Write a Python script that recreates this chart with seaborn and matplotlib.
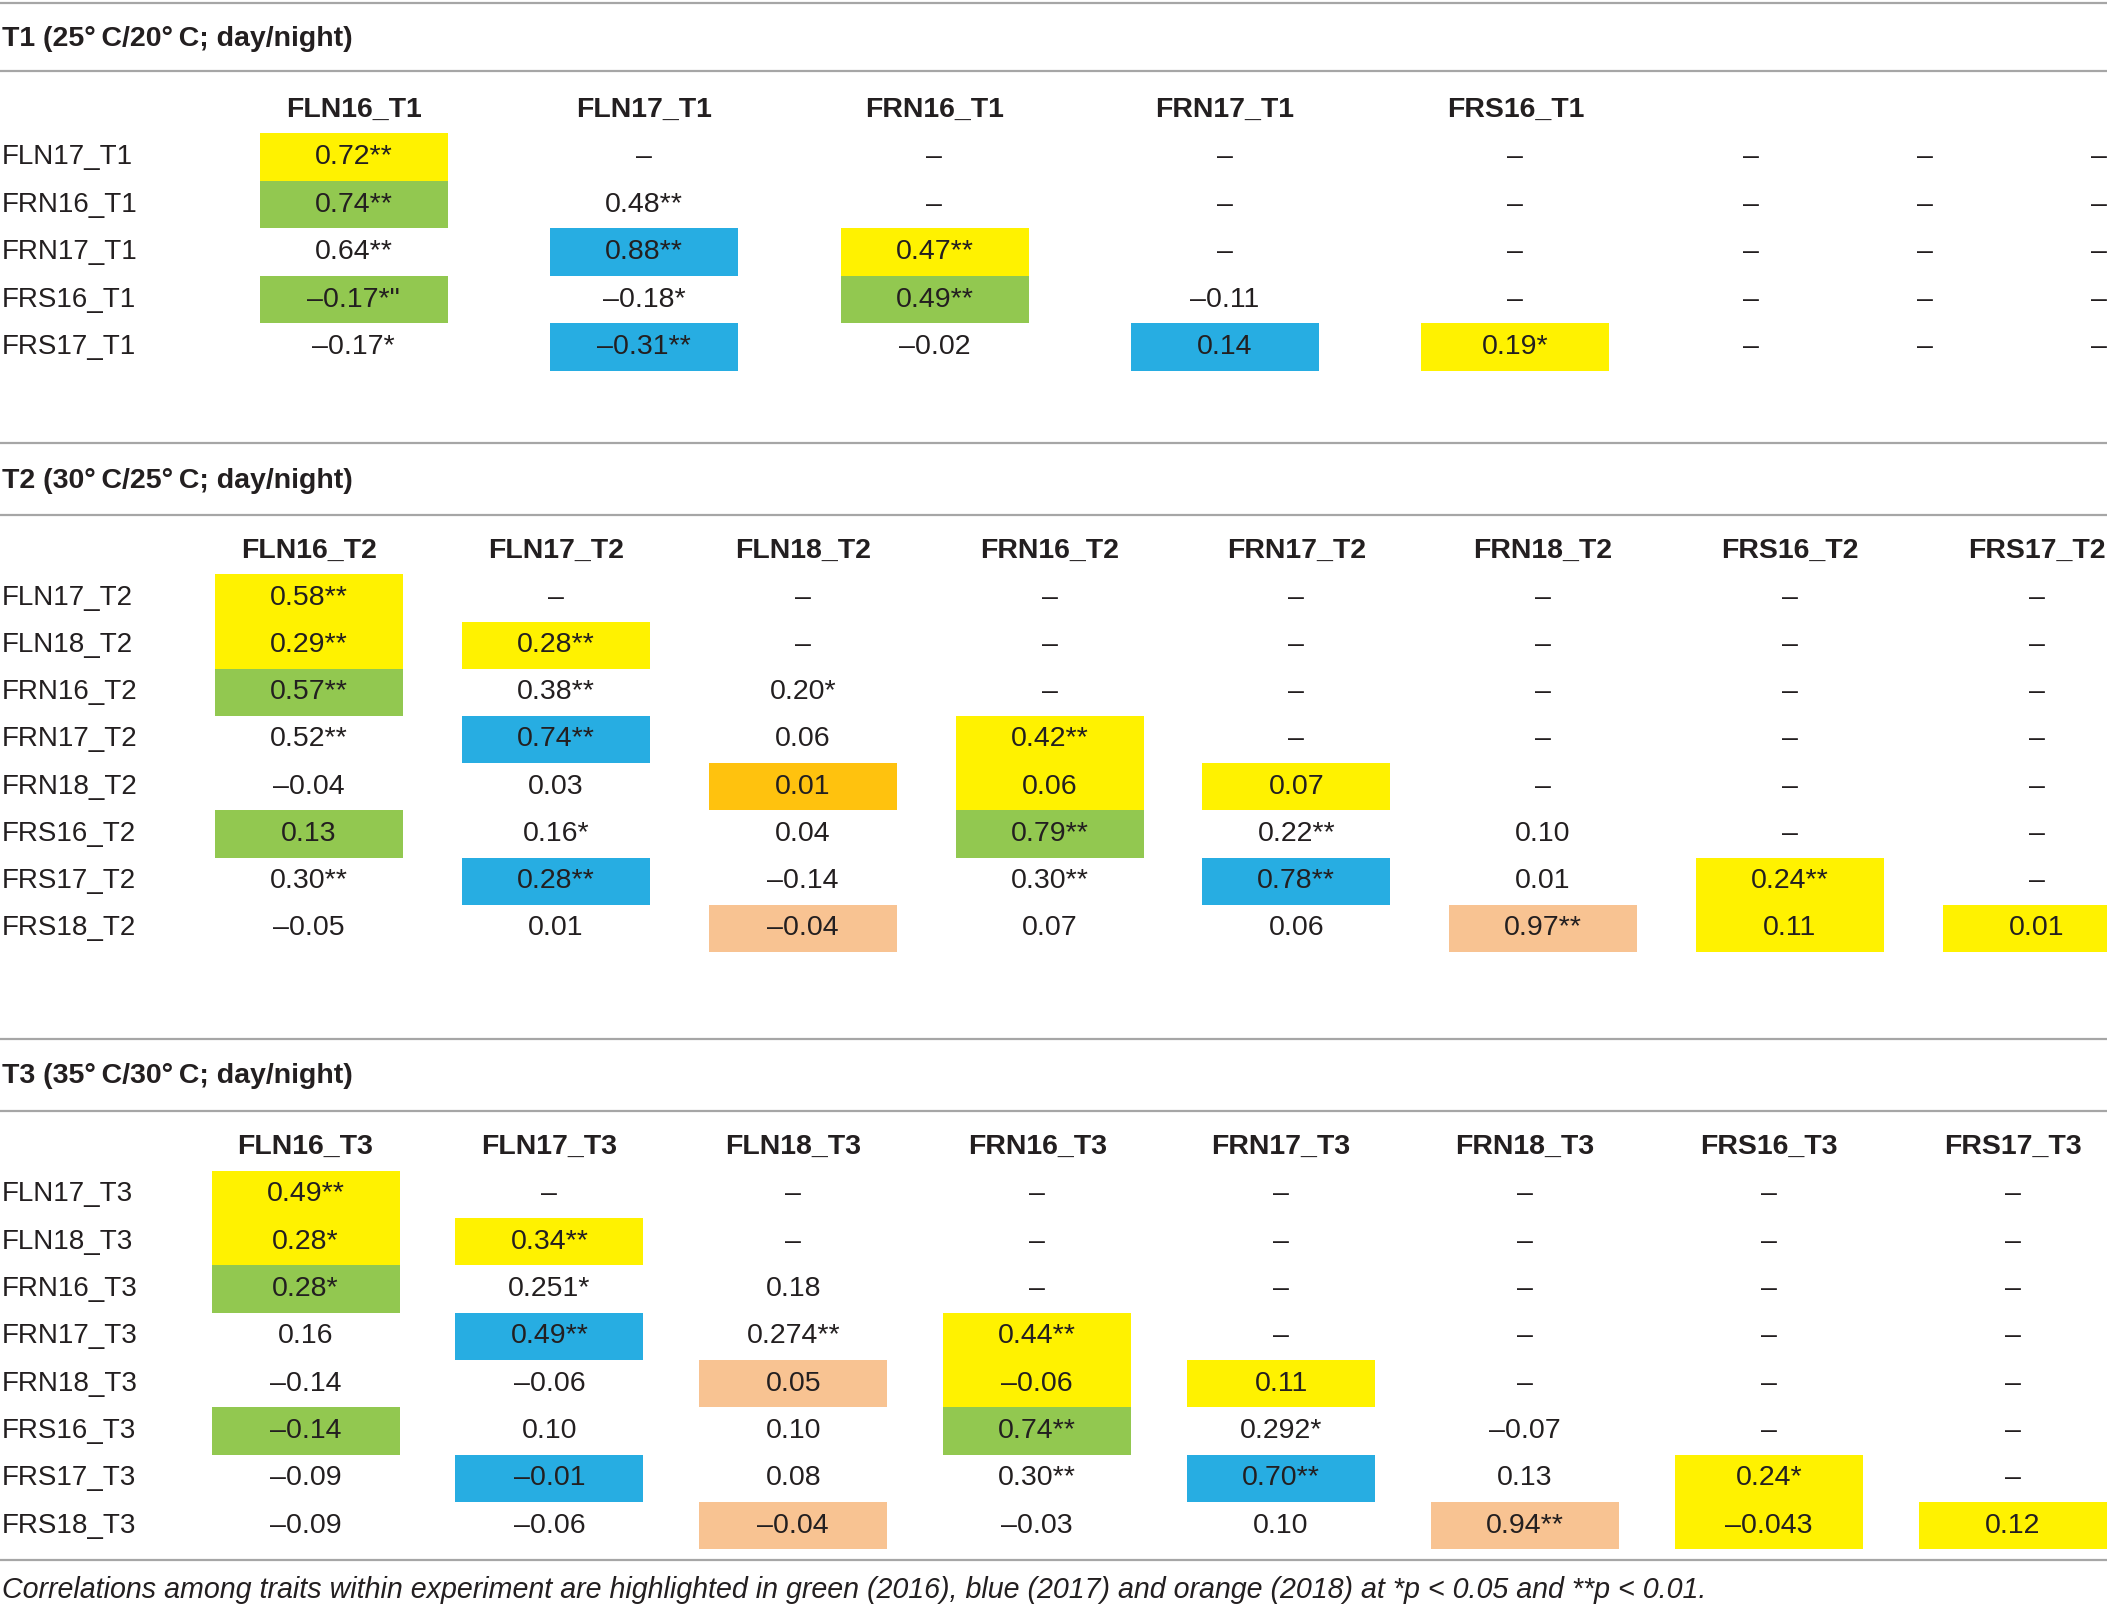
import matplotlib.pyplot as plt
import seaborn as sns

W, H, DPI = 2107, 1604, 100

# ---- data -----------------------------------------------------------------
t1_rows = ["FLN17_T1", "FRN16_T1", "FRN17_T1", "FRS16_T1", "FRS17_T1"]
t1_cols = ["FLN16_T1", "FLN17_T1", "FRN16_T1", "FRN17_T1", "FRS16_T1", "", "", ""]
t1_values = [
    ["0.72**", "–", "–", "–", "–", "–", "–", "–"],
    ["0.74**", "0.48**", "–", "–", "–", "–", "–", "–"],
    ["0.64**", "0.88**", "0.47**", "–", "–", "–", "–", "–"],
    ["–0.17*\"", "–0.18*", "0.49**", "–0.11", "–", "–", "–", "–"],
    ["–0.17*", "–0.31**", "–0.02", "0.14", "0.19*", "–", "–", "–"],
]
# highlight codes: G green (2016), B blue (2017), O/P orange (2018), Y yellow
t1_marks = ["Y.......",
            "G.......",
            ".BY.....",
            "G.G.....",
            ".B.BY..."]

t2_rows = ["FLN17_T2", "FLN18_T2", "FRN16_T2", "FRN17_T2",
           "FRN18_T2", "FRS16_T2", "FRS17_T2", "FRS18_T2"]
t2_cols = ["FLN16_T2", "FLN17_T2", "FLN18_T2", "FRN16_T2",
           "FRN17_T2", "FRN18_T2", "FRS16_T2", "FRS17_T2"]
t2_values = [
    ["0.58**", "–", "–", "–", "–", "–", "–", "–"],
    ["0.29**", "0.28**", "–", "–", "–", "–", "–", "–"],
    ["0.57**", "0.38**", "0.20*", "–", "–", "–", "–", "–"],
    ["0.52**", "0.74**", "0.06", "0.42**", "–", "–", "–", "–"],
    ["–0.04", "0.03", "0.01", "0.06", "0.07", "–", "–", "–"],
    ["0.13", "0.16*", "0.04", "0.79**", "0.22**", "0.10", "–", "–"],
    ["0.30**", "0.28**", "–0.14", "0.30**", "0.78**", "0.01", "0.24**", "–"],
    ["–0.05", "0.01", "–0.04", "0.07", "0.06", "0.97**", "0.11", "0.01"],
]
t2_marks = ["Y.......",
            "YY......",
            "G.......",
            ".B.Y....",
            "..OYY...",
            "G..G....",
            ".B..B.Y.",
            "..P..PYY"]

t3_rows = ["FLN17_T3", "FLN18_T3", "FRN16_T3", "FRN17_T3",
           "FRN18_T3", "FRS16_T3", "FRS17_T3", "FRS18_T3"]
t3_cols = ["FLN16_T3", "FLN17_T3", "FLN18_T3", "FRN16_T3",
           "FRN17_T3", "FRN18_T3", "FRS16_T3", "FRS17_T3"]
t3_values = [
    ["0.49**", "–", "–", "–", "–", "–", "–", "–"],
    ["0.28*", "0.34**", "–", "–", "–", "–", "–", "–"],
    ["0.28*", "0.251*", "0.18", "–", "–", "–", "–", "–"],
    ["0.16", "0.49**", "0.274**", "0.44**", "–", "–", "–", "–"],
    ["–0.14", "–0.06", "0.05", "–0.06", "0.11", "–", "–", "–"],
    ["–0.14", "0.10", "0.10", "0.74**", "0.292*", "–0.07", "–", "–"],
    ["–0.09", "–0.01", "0.08", "0.30**", "0.70**", "0.13", "0.24*", "–"],
    ["–0.09", "–0.06", "–0.04", "–0.03", "0.10", "0.94**", "–0.043", "0.12"],
]
t3_marks = ["Y.......",
            "YY......",
            "G.......",
            ".B.Y....",
            "..PYY...",
            "G..G....",
            ".B..B.Y.",
            "..P..PYY"]

titles = ["T1 (25°\u2009C/20°\u2009C; day/night)",
          "T2 (30°\u2009C/25°\u2009C; day/night)",
          "T3 (35°\u2009C/30°\u2009C; day/night)"]
footnote = ("Correlations among traits within experiment are highlighted in green (2016), "
            "blue (2017) and orange (2018) at *p < 0.05 and **p < 0.01.")

# ---- style ------------------------------------------------------------------
sns.set_theme(style="white")
plt.rcParams['font.family'] = ['Liberation Sans', 'DejaVu Sans']

INK = "#231f20"
RULE = "#a6a6a6"
COLORS = {"Y": "#fff200", "G": "#92c850", "B": "#27ade2",
          "O": "#ffc20e", "P": "#f8c392"}
FS = 20.5
CELL_W = 188  # px

# layout (pixel units of the final image)
layouts = [
    dict(c0=353.6, step=290.45, top=133.4, rh=47.5,
         xs=[0, 1, 2, 3, 4, 4.81, 5.41, 6.01]),
    dict(c0=309.1, step=246.8, top=574.3, rh=47.2),
    dict(c0=305.5, step=243.9, top=1170.8, rh=47.3),
]
rule_y = [2.7, 71, 443, 515, 1039, 1111, 1560]
title_y = [38.7, 480.7, 1076]
foot_y = 1590

fig = plt.figure(figsize=(W / DPI, H / DPI), dpi=DPI)
fig.patch.set_facecolor("white")

# frame axes in pixel coordinates for rules, titles, footnote
frame = fig.add_axes([0, 0, 1, 1], facecolor="none")
frame.set_xlim(0, W)
frame.set_ylim(H, 0)
frame.axis("off")
for y in rule_y:
    frame.axhline(y, color=RULE, lw=1.6)
for t, y in zip(titles, title_y):
    frame.text(2, y, t, fontsize=FS, fontweight="bold", color=INK, ha="left", va="center")
frame.text(2, foot_y, footnote, fontsize=20.6, style="italic", color=INK,
           ha="left", va="center")


def draw_section(rows, cols, values, marks, lay):
    ax = fig.add_axes([0, 0, 1, 1], facecolor="none")
    c0, step, top, rh = lay["c0"], lay["step"], lay["top"], lay["rh"]
    ax.set_xlim((0 - c0) / step, (W - c0) / step)
    ax.set_ylim((H - top) / rh - 0.5, (0 - top) / rh - 0.5)
    ax.axis("off")
    xs = lay.get("xs", list(range(len(cols))))
    cw = CELL_W / step
    for c, name in enumerate(cols):
        if name:
            ax.text(xs[c], -1, name, ha="center", va="center", fontsize=FS,
                    fontweight="bold", color=INK)
    ytr = ax.get_yaxis_transform()
    for r, row in enumerate(rows):
        ax.text(0.001, r, row, transform=ytr, ha="left", va="center",
                fontsize=FS - 0.5, color=INK)
        for c, x in enumerate(xs):
            code = marks[r][c]
            if code != ".":
                ax.bar(x, 1, width=cw, bottom=r - 0.5, color=COLORS[code],
                       edgecolor="none", zorder=1)
            ax.text(x, r, values[r][c], ha="center", va="center", fontsize=FS,
                    color=INK, zorder=2)


draw_section(t1_rows, t1_cols, t1_values, t1_marks, layouts[0])
draw_section(t2_rows, t2_cols, t2_values, t2_marks, layouts[1])
draw_section(t3_rows, t3_cols, t3_values, t3_marks, layouts[2])

fig.savefig("out.png", dpi=DPI)
